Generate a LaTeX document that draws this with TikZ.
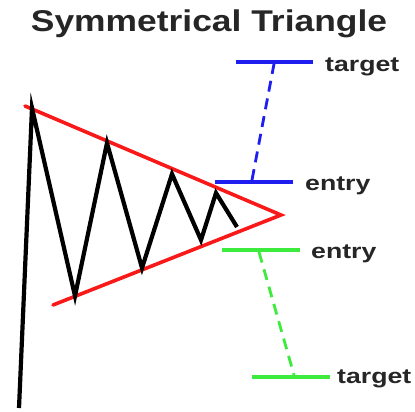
\documentclass[tikz,border=0pt]{standalone}
\usepackage{fontspec}
\setmainfont{Liberation Sans}
\begin{document}
\begin{tikzpicture}[x=1pt,y=-1pt,
  zig/.style={line width=4.2pt,black,line join=miter,line cap=butt},
  redline/.style={line width=3.6pt,line cap=round},
  lvl/.style={line width=3.3pt},
  dashlvl/.style={line width=2.8pt,dash pattern=on 11pt off 7pt},
  lbl/.style={anchor=base west,inner sep=0pt,font=\fontsize{21}{21}\selectfont\bfseries,text=black!85}]
\definecolor{bl}{RGB}{30,30,240}
\definecolor{gr}{RGB}{60,235,60}
\definecolor{rd}{RGB}{250,25,25}
\useasboundingbox (0,0) rectangle (415,412);
\fill[white] (0,0) rectangle (415,412);
% title
\node[anchor=base,inner sep=0pt,font=\fontsize{30}{30}\selectfont\bfseries,text=black!85] (title) at (209,32) {\scalebox{1.18}[1]{Symmetrical Triangle}};
% red triangle
\coordinate (rA) at (25,106);
\coordinate (rB) at (281,215);
\coordinate (rC) at (53,305);
\draw[redline,draw=rd] (rA) -- (rB) -- (rC);
% black zigzag
\coordinate (z0) at (19,408);
\coordinate (z1) at (32,108);
\coordinate (z2) at (75,296);
\coordinate (z3) at (107,143);
\coordinate (z4) at (142,268);
\coordinate (z5) at (172,174);
\coordinate (z6) at (201,240);
\coordinate (z7) at (216,193);
\coordinate (z8) at (237,227);
\draw[zig] (z0) -- (z1) -- (z2) -- (z3) -- (z4) -- (z5) -- (z6) -- (z7) -- (z8);
% blue levels
\coordinate (bt1) at (236,62); \coordinate (bt2) at (313,62);
\coordinate (be1) at (215,182); \coordinate (be2) at (293,182);
\coordinate (bd1) at (274,64); \coordinate (bd2) at (252,180);
\draw[lvl,bl] (bt1) -- (bt2);
\draw[lvl,bl] (be1) -- (be2);
\draw[dashlvl,bl] (bd2) -- (bd1);
\node[lbl] (btl) at (325,72) {\scalebox{1.27}[1]{target}};
\node[lbl] (bel) at (305,190) {\scalebox{1.27}[1]{entry}};
% green levels
\coordinate (ge1) at (222,250); \coordinate (ge2) at (300,250);
\coordinate (gt1) at (252,377); \coordinate (gt2) at (330,377);
\coordinate (gd1) at (259,252); \coordinate (gd2) at (294,375);
\draw[lvl,gr] (ge1) -- (ge2);
\draw[lvl,gr] (gt1) -- (gt2);
\draw[dashlvl,gr] (gd1) -- (gd2);
\node[lbl] (gel) at (311,258) {\scalebox{1.27}[1]{entry}};
\node[lbl] (gtl) at (337,383) {\scalebox{1.27}[1]{target}};
\end{tikzpicture}
\end{document}
